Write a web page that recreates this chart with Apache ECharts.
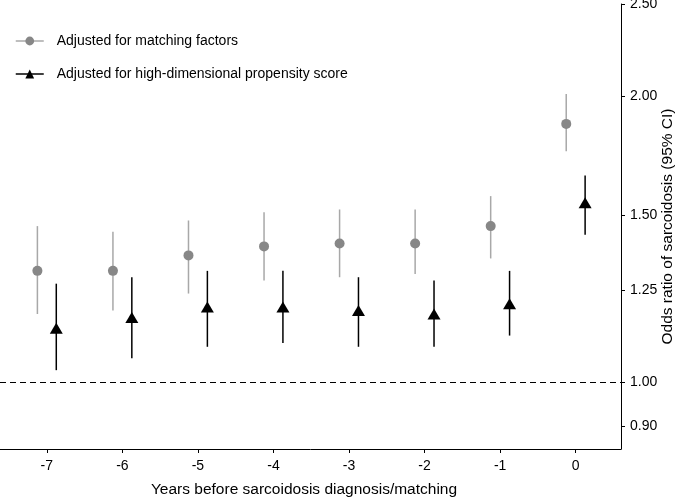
<!DOCTYPE html>
<html>
<head>
<meta charset="utf-8">
<script src="https://cdn.jsdelivr.net/npm/echarts@6/dist/echarts.min.js"></script>
<style>html,body{margin:0;padding:0;background:#fff}#c{width:685px;height:498px}</style>
</head>
<body>
<div id="c"></div>
<script>
const years = [-7, -6, -5, -4, -3, -2, -1, 0];
const matchEst  = [1.31, 1.31, 1.36, 1.39, 1.40, 1.40, 1.46, 1.87];
const matchLow  = [1.18, 1.19, 1.24, 1.28, 1.29, 1.30, 1.35, 1.75];
const matchHigh = [1.46, 1.44, 1.48, 1.51, 1.52, 1.52, 1.57, 2.01];
const hdpsEst  = [1.14, 1.17, 1.20, 1.20, 1.19, 1.18, 1.21, 1.545];
const hdpsLow  = [1.03, 1.06, 1.09, 1.10, 1.09, 1.09, 1.12, 1.43];
const hdpsHigh = [1.27, 1.29, 1.31, 1.31, 1.29, 1.28, 1.31, 1.65];
const yTicks = [0.9, 1.0, 1.25, 1.5, 2.0, 2.5];
const xTicks = [-7, -6, -5, -4, -3, -2, -1, 0];
const nameMatch = 'Adjusted for matching factors';
const nameHdps = 'Adjusted for high-dimensional propensity score';

const OFF = 0.125;
const FONT = '"Liberation Sans", Arial, Helvetica, sans-serif';
const GREY = '#878787', GREY_BAR = '#a8a8a8', BLACK = '#000000';

function errBar(color) {
  return function (params, api) {
    const x = api.value(0);
    const p1 = api.coord([x, api.value(1)]);
    const p2 = api.coord([x, api.value(2)]);
    return { type: 'line', shape: { x1: p1[0], y1: p1[1], x2: p2[0], y2: p2[1] },
      style: { stroke: color, lineWidth: 1.5 } };
  };
}

const chart = echarts.init(document.getElementById('c'), null, { renderer: 'canvas' });
chart.setOption({
  animation: false,
  backgroundColor: '#fff',
  textStyle: { fontFamily: FONT },
  grid: { left: 0, right: 64, top: 4, bottom: 49, containLabel: false, outerBoundsMode: 'none' },
  legend: {
    orient: 'vertical', left: 15, top: 34, padding: 0, itemGap: 19, itemWidth: 28, itemHeight: 11,
    textStyle: { fontSize: 14, color: '#000', fontFamily: FONT, padding: [0, 0, 0, 8] },
    data: [
      { name: nameMatch, lineStyle: { color: GREY_BAR, width: 1.5, opacity: 1 } },
      { name: nameHdps, lineStyle: { color: BLACK, width: 1.5, opacity: 1 } }
    ]
  },
  xAxis: {
    type: 'value', min: -7.62, max: 0.6,
    name: 'Years before sarcoidosis diagnosis/matching', nameLocation: 'middle', nameGap: 33,
    nameMoveOverlap: false,
    nameTextStyle: { fontSize: 15.5, color: '#000', fontFamily: FONT, padding: [0, 13, 0, 0] },
    axisLine: { show: true, onZero: false, lineStyle: { color: '#000', width: 1 } },
    axisTick: { show: true, length: 4, customValues: xTicks, lineStyle: { color: '#000' } },
    axisLabel: { customValues: xTicks, fontSize: 14, color: '#000', margin: 10, fontFamily: FONT },
    splitLine: { show: false }
  },
  yAxis: {
    type: 'log', position: 'right', min: 0.851, max: 2.5,
    name: 'Odds ratio of sarcoidosis (95% CI)', nameLocation: 'middle', nameGap: 39, nameRotate: 90,
    nameMoveOverlap: false,
    nameTextStyle: { fontSize: 15.5, color: '#000', fontFamily: FONT },
    axisLine: { show: true, onZero: false, lineStyle: { color: '#000', width: 1 } },
    axisTick: { show: true, length: 4, customValues: yTicks, lineStyle: { color: '#000' } },
    axisLabel: { customValues: yTicks, fontSize: 14, color: '#000', margin: 9, fontFamily: FONT,
      formatter: v => Number(v).toFixed(2) },
    splitLine: { show: false }
  },
  series: [
    {
      type: 'custom', name: 'matchCI', renderItem: errBar(GREY_BAR), silent: true, z: 1,
      data: years.map((y, i) => [y - OFF, matchLow[i], matchHigh[i]]),
      encode: { x: 0, y: [1, 2] },
      markLine: {
        silent: true, symbol: 'none', label: { show: false },
        lineStyle: { color: '#000', type: [6, 4], width: 1 },
        data: [{ yAxis: 1 }]
      }
    },
    {
      type: 'custom', name: 'hdpsCI', renderItem: errBar(BLACK), silent: true, z: 1,
      data: years.map((y, i) => [y + OFF, hdpsLow[i], hdpsHigh[i]]),
      encode: { x: 0, y: [1, 2] }
    },
    {
      type: 'line', name: nameMatch, symbol: 'circle', symbolSize: 10, z: 3,
      itemStyle: { color: GREY }, lineStyle: { width: 0, opacity: 0 },
      data: years.map((y, i) => [y - OFF, matchEst[i]])
    },
    {
      type: 'line', name: nameHdps, symbol: 'triangle', symbolSize: [13, 11], z: 3,
      itemStyle: { color: BLACK }, lineStyle: { width: 0, opacity: 0 },
      data: years.map((y, i) => [y + OFF, hdpsEst[i]])
    }
  ]
});
</script>
</body>
</html>
